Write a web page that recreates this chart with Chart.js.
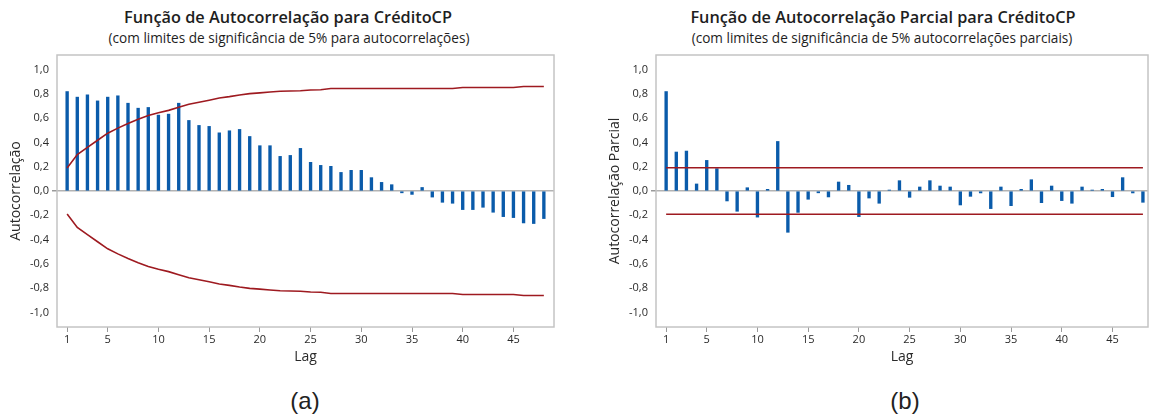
<!DOCTYPE html>
<html lang="pt">
<head>
<meta charset="utf-8">
<title>Autocorrelação e Autocorrelação Parcial – CréditoCP</title>
<script src="https://cdn.jsdelivr.net/npm/chart.js@4.4.1/dist/chart.umd.min.js"></script>
<style>
  html, body { margin: 0; padding: 0; background: #ffffff; }
  body { position: relative; width: 1149px; height: 416px; overflow: hidden; font-family: "Open Sans", "Noto Sans", sans-serif; }
  canvas { position: absolute; top: 0; }
  #acfCanvas { left: 0; }
  #pacfCanvas { left: 575px; }
  .title, .subtitle, .panel { position: absolute; transform: translate(-50%, -50%); white-space: nowrap; color: #1e1e1e; }
  .title { font-size: 16.3px; font-weight: 600; }
  .subtitle { font-size: 13.6px; font-weight: 400; }
  .panel { font-family: "Liberation Sans", Arial, sans-serif; font-size: 24px; color: #222; }
</style>
</head>
<body>

<div class="title" style="left:288px; top:17px;">Função de Autocorrelação para CréditoCP</div>
<div class="subtitle" style="left:289px; top:37px;">(com limites de significância de 5% para autocorrelações)</div>
<div class="title" style="left:883px; top:17px;">Função de Autocorrelação Parcial para CréditoCP</div>
<div class="subtitle" style="left:882px; top:37px;">(com limites de significância de 5% autocorrelações parciais)</div>

<canvas id="acfCanvas" width="575" height="375"></canvas>
<canvas id="pacfCanvas" width="574" height="375"></canvas>

<div class="panel" style="left:305px; top:401px;">(a)</div>
<div class="panel" style="left:905px; top:401px;">(b)</div>

<script>
// Autocorrelations of CréditoCP, lags 1..48
const acfValues = [
  0.819, 0.773, 0.792, 0.742, 0.773, 0.784, 0.723, 0.682, 0.688, 0.625,
  0.633, 0.723, 0.581, 0.540, 0.532, 0.479, 0.496, 0.507, 0.449, 0.373,
  0.373, 0.285, 0.293, 0.351, 0.236, 0.211, 0.203, 0.153, 0.170, 0.170,
  0.110, 0.071, 0.052, -0.015, -0.028, 0.029, -0.050, -0.093, -0.101, -0.153,
  -0.153, -0.134, -0.175, -0.211, -0.219, -0.263, -0.268, -0.227
];

// 5% significance limits for the autocorrelations (upper and lower)
const acfUpper = [
  0.190, 0.300, 0.360, 0.418, 0.476, 0.518, 0.556, 0.590, 0.621, 0.645,
  0.664, 0.690, 0.714, 0.731, 0.748, 0.766, 0.777, 0.791, 0.802, 0.808,
  0.815, 0.822, 0.824, 0.825, 0.832, 0.834, 0.844, 0.844, 0.844, 0.844,
  0.844, 0.844, 0.844, 0.844, 0.844, 0.844, 0.844, 0.844, 0.844, 0.852,
  0.852, 0.852, 0.852, 0.852, 0.852, 0.860, 0.860, 0.860
];
const acfLower = [
  -0.190, -0.300, -0.360, -0.418, -0.476, -0.518, -0.556, -0.590, -0.621, -0.645,
  -0.664, -0.690, -0.714, -0.731, -0.748, -0.766, -0.777, -0.791, -0.802, -0.808,
  -0.815, -0.822, -0.824, -0.825, -0.832, -0.834, -0.844, -0.844, -0.844, -0.844,
  -0.844, -0.844, -0.844, -0.844, -0.844, -0.844, -0.844, -0.844, -0.844, -0.852,
  -0.852, -0.852, -0.852, -0.852, -0.852, -0.860, -0.860, -0.860
];

// Partial autocorrelations of CréditoCP, lags 1..48
const pacfValues = [
  0.819, 0.321, 0.329, 0.058, 0.252, 0.184, -0.082, -0.167, 0.027, -0.215,
  0.014, 0.408, -0.340, -0.176, -0.068, -0.015, -0.049, 0.074, 0.047, -0.211,
  -0.058, -0.101, 0.008, 0.085, -0.052, 0.033, 0.085, 0.041, 0.033, -0.115,
  -0.044, -0.016, -0.145, 0.033, -0.121, 0.014, 0.093, -0.096, 0.041, -0.079,
  -0.101, 0.033, 0.008, 0.014, -0.047, 0.110, -0.016, -0.093
];

// Constant 5% limits for the partial autocorrelations
const pacfLimitLags = [1, 48];
const pacfUpper = [0.192, 0.192];
const pacfLower = [-0.192, -0.192];

// Axis ticks
const lagTicks = [1, 5, 10, 15, 20, 25, 30, 35, 40, 45];
const corrTicks = [-1.0, -0.8, -0.6, -0.4, -0.2, 0.0, 0.2, 0.4, 0.6, 0.8, 1.0];

const BAR_BLUE = '#0A5BAA';
const LIMIT_RED = '#9E1A20';
const FRAME_GRAY = '#c4c4c4';
const TEXT_DARK = '#2a2a2a';
const FONT = '"Open Sans", "Noto Sans", sans-serif';

const toPoints = (values) => values.map((v, i) => ({ x: i + 1, y: v }));
const pairPoints = (xs, ys) => xs.map((x, i) => ({ x: x, y: ys[i] }));
const commaLabel = (v) => Number(v).toFixed(1).replace('.', ',');

// Gray box round the plotting area
const framePlugin = {
  id: 'plotFrame',
  afterDraw(chart) {
    const { ctx, chartArea: a } = chart;
    ctx.save();
    ctx.strokeStyle = FRAME_GRAY;
    ctx.lineWidth = 1.5;
    ctx.strokeRect(a.left, a.top, a.right - a.left, a.bottom - a.top);
    ctx.restore();
  }
};

function makeCorrChart(canvasId, cfg) {
  const datasets = [];
  cfg.limits.forEach((pts) => {
    datasets.push({
      type: 'line',
      data: pts,
      borderColor: LIMIT_RED,
      borderWidth: 1.6,
      pointRadius: 0,
      tension: 0,
      fill: false,
      order: 0
    });
  });
  datasets.push({
    type: 'bar',
    data: cfg.bars,
    backgroundColor: BAR_BLUE,
    borderWidth: 0,
    barThickness: 2.7,
    order: 1
  });

  return new Chart(document.getElementById(canvasId), {
    data: { datasets: datasets },
    options: {
      responsive: false,
      animation: false,
      events: [],
      layout: { padding: { top: 55, left: 0, right: cfg.padRight, bottom: 0 } },
      plugins: { legend: { display: false }, tooltip: { enabled: false }, title: { display: false } },
      scales: {
        x: {
          type: 'linear',
          min: 0,
          max: cfg.xMax,
          offset: false,
          border: { display: false },
          grid: { offset: false, drawOnChartArea: false, drawTicks: true, tickLength: 5, tickColor: '#9a9a9a', tickWidth: 1 },
          ticks: { color: TEXT_DARK, font: { family: FONT, size: 11 }, padding: 1, maxRotation: 0, autoSkip: false },
          afterBuildTicks: (scale) => { scale.ticks = lagTicks.map((v) => ({ value: v })); },
          afterFit: (scale) => { scale.height = 48; },
          title: { display: true, text: 'Lag', color: TEXT_DARK, font: { family: FONT, size: 14 }, padding: { top: 0, bottom: 10 } }
        },
        y: {
          type: 'linear',
          min: -1.12,
          max: 1.12,
          border: { display: false },
          grid: {
            offset: false,
            drawOnChartArea: true,
            drawTicks: true,
            tickLength: 5,
            tickColor: '#9a9a9a',
            color: (c) => (c.tick && c.tick.value === 0 ? '#b3b3b3' : 'rgba(0,0,0,0)'),
            lineWidth: (c) => (c.tick && c.tick.value === 0 ? 1.5 : 0)
          },
          ticks: { color: TEXT_DARK, font: { family: FONT, size: 11 }, padding: 3, callback: (v) => commaLabel(v) },
          afterBuildTicks: (scale) => { scale.ticks = corrTicks.map((v) => ({ value: v })); },
          afterFit: (scale) => { scale.width = cfg.yWidth; },
          title: { display: true, text: cfg.yTitle, color: TEXT_DARK, font: { family: FONT, size: 14 }, padding: { top: cfg.yTitlePad, bottom: 0 } }
        }
      }
    },
    plugins: [framePlugin]
  });
}

makeCorrChart('acfCanvas', {
  bars: toPoints(acfValues),
  limits: [toPoints(acfUpper), toPoints(acfLower)],
  xMax: 49,
  padRight: 21,
  yWidth: 57,
  yTitle: 'Autocorrelação',
  yTitlePad: 8
});

makeCorrChart('pacfCanvas', {
  bars: toPoints(pacfValues),
  limits: [pairPoints(pacfLimitLags, pacfUpper), pairPoints(pacfLimitLags, pacfLower)],
  xMax: 48.5,
  padRight: 1,
  yWidth: 81,
  yTitle: 'Autocorrelação Parcial',
  yTitlePad: 32
});
</script>
</body>
</html>
